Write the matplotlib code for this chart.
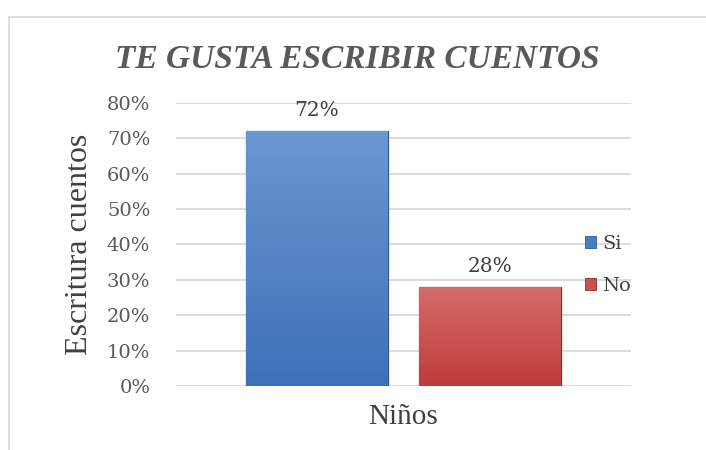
import numpy as np
import matplotlib
matplotlib.use("Agg")
import matplotlib.pyplot as plt
from matplotlib.lines import Line2D
from matplotlib.colors import LinearSegmentedColormap

# data
categories = ["Niños"]
series_names = ["Si", "No"]
values = [0.72, 0.28]
yticks = [0.0, 0.1, 0.2, 0.3, 0.4, 0.5, 0.6, 0.7, 0.8]
title = "TE GUSTA ESCRIBIR CUENTOS"
ylabel = "Escritura cuentos"

colors_top = ["#6B97D3", "#D66C69"]
colors_bot = ["#3D71B6", "#BE3C3A"]
edge_cols = ["#2F5A94", "#8E2B29"]
legend_cols = ["#4A7EC2", "#C9504D"]

fig = plt.figure(figsize=(7.06, 4.5), dpi=100)
W, H = 706, 450
ax = fig.add_axes([176 / W, 1 - 386 / H, (631 - 176) / W, (386 - 102.7) / H])

width = 0.312
gap = 0.068
offsets = [-(width + gap) / 2, (width + gap) / 2]
for i, (name, v) in enumerate(zip(series_names, values)):
    b = ax.bar(0.5 + offsets[i], v, width=width, color=legend_cols[i],
               edgecolor=edge_cols[i], linewidth=0.9, zorder=3, label=name)
    rect = b[0]
    x0, y0 = rect.get_x(), rect.get_y()
    w, h = rect.get_width(), rect.get_height()
    cmap = LinearSegmentedColormap.from_list("g", [colors_bot[i], colors_top[i]])
    grad = np.linspace(0, 1, 256).reshape(-1, 1)
    im = ax.imshow(grad, extent=(x0, x0 + w, y0, y0 + h), origin="lower",
                   cmap=cmap, aspect="auto", zorder=3.5)
    im.set_clip_path(rect)
    ax.text(0.5 + offsets[i], v + 0.03, f"{round(v*100)}%", ha="center",
            va="bottom", fontsize=14.5, family="DejaVu Serif", color="#404040",
            zorder=5)

ax.set_xlim(0, 1)
ax.set_ylim(0, 0.8)
ax.set_yticks(yticks)
ax.set_yticklabels([f"{int(round(t*100))}%" for t in yticks])
ax.set_xticks([0.5])
ax.set_xticklabels(categories)
for s in ax.spines.values():
    s.set_visible(False)
ax.tick_params(axis="both", length=0)
ax.tick_params(axis="y", pad=18.5, labelsize=14, labelcolor="#595959")
ax.tick_params(axis="x", pad=13, labelsize=21, labelcolor="#404040")
for lab in ax.get_yticklabels():
    lab.set_family("DejaVu Serif")
for lab in ax.get_xticklabels():
    lab.set_family("Liberation Serif")
ax.grid(axis="y", color="#D9D9D9", linewidth=1.3, zorder=0)
ax.set_axisbelow(True)
ax.set_ylabel(ylabel, fontsize=23, family="Liberation Serif", color="#404040",
              labelpad=9)

fig.text(357 / W, 1 - 60 / H, title, ha="center", va="center", fontsize=24,
         family="Liberation Serif", fontweight="bold", fontstyle="italic",
         color="#595959")

handles = [plt.Rectangle((0, 0), 1, 1, facecolor=legend_cols[i],
                         edgecolor=edge_cols[i], linewidth=0.6)
           for i in range(len(series_names))]
leg = fig.legend(handles, series_names, loc="center left",
                 bbox_to_anchor=(575 / W, 1 - 265 / H), frameon=False,
                 prop={"family": "DejaVu Serif", "size": 14},
                 handlelength=0.6, handleheight=0.6, handletextpad=0.3,
                 labelspacing=1.25, borderpad=0)
for t in leg.get_texts():
    t.set_color("#404040")

# chart frame
fig.add_artist(Line2D([9 / W, 9 / W], [0, 1 - 17 / H], transform=fig.transFigure,
                      color="#D9D9D9", linewidth=1.2))
fig.add_artist(Line2D([9 / W, 1], [1 - 17 / H, 1 - 17 / H], transform=fig.transFigure,
                      color="#D9D9D9", linewidth=1.2))

fig.savefig("out.png", dpi=100)
